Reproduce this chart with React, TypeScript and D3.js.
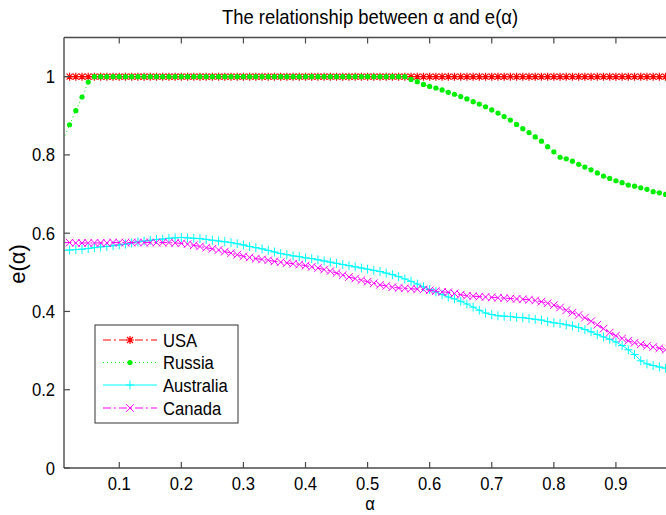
import React from 'react';
import * as d3 from 'd3';

const W = 666;
const H = 515;

// sampling grid of alpha
const alpha = d3.range(1, 100).map((i) => i / 100);

const usa = [
  1, 1, 1, 1, 1, 1, 1, 1, 1, 1,
  1, 1, 1, 1, 1, 1, 1, 1, 1, 1,
  1, 1, 1, 1, 1, 1, 1, 1, 1, 1,
  1, 1, 1, 1, 1, 1, 1, 1, 1, 1,
  1, 1, 1, 1, 1, 1, 1, 1, 1, 1,
  1, 1, 1, 1, 1, 1, 1, 1, 1, 1,
  1, 1, 1, 1, 1, 1, 1, 1, 1, 1,
  1, 1, 1, 1, 1, 1, 1, 1, 1, 1,
  1, 1, 1, 1, 1, 1, 1, 1, 1, 1,
  1, 1, 1, 1, 1, 1, 1, 1, 1,
];

const russia = [
  0.84, 0.877, 0.913, 0.948, 0.986, 1, 1, 1, 1, 1,
  1, 1, 1, 1, 1, 1, 1, 1, 1, 1,
  1, 1, 1, 1, 1, 1, 1, 1, 1, 1,
  1, 1, 1, 1, 1, 1, 1, 1, 1, 1,
  1, 1, 1, 1, 1, 1, 1, 1, 1, 1,
  1, 1, 1, 1, 1, 1, 0.993, 0.987, 0.98, 0.975,
  0.971, 0.966, 0.96, 0.955, 0.949, 0.943, 0.936, 0.93, 0.923, 0.915,
  0.907, 0.898, 0.889, 0.878, 0.867, 0.857, 0.846, 0.835, 0.821, 0.808,
  0.794, 0.79, 0.784, 0.776, 0.769, 0.762, 0.754, 0.746, 0.74, 0.734,
  0.729, 0.723, 0.72, 0.716, 0.712, 0.706, 0.703, 0.699, 0.696,
];

const australia = [
  0.556, 0.557, 0.558, 0.559, 0.561, 0.563, 0.565, 0.566, 0.568, 0.57,
  0.572, 0.575, 0.578, 0.58, 0.582, 0.584, 0.585, 0.587, 0.588, 0.589,
  0.588, 0.587, 0.586, 0.584, 0.582, 0.58, 0.578, 0.576, 0.573, 0.57,
  0.566, 0.563, 0.56, 0.556, 0.552, 0.548, 0.545, 0.542, 0.54, 0.537,
  0.535, 0.532, 0.529, 0.526, 0.523, 0.52, 0.517, 0.514, 0.511, 0.508,
  0.505, 0.502, 0.498, 0.494, 0.489, 0.483, 0.477, 0.47, 0.463, 0.456,
  0.45, 0.443, 0.437, 0.432, 0.426, 0.419, 0.411, 0.403, 0.396, 0.392,
  0.389, 0.388, 0.387, 0.385, 0.384, 0.382, 0.38, 0.378, 0.374, 0.371,
  0.369, 0.366, 0.363, 0.359, 0.354, 0.348, 0.341, 0.335, 0.329, 0.322,
  0.313, 0.302, 0.29, 0.274, 0.266, 0.262, 0.258, 0.255, 0.253,
];

const canada = [
  0.576, 0.576, 0.575, 0.575, 0.575, 0.575, 0.575, 0.575, 0.576, 0.576,
  0.576, 0.576, 0.576, 0.576, 0.576, 0.576, 0.576, 0.576, 0.575, 0.574,
  0.572, 0.569, 0.566, 0.563, 0.56, 0.557, 0.553, 0.549, 0.545, 0.541,
  0.538, 0.535, 0.533, 0.531, 0.528, 0.526, 0.524, 0.522, 0.52, 0.517,
  0.514, 0.511, 0.507, 0.503, 0.498, 0.493, 0.488, 0.484, 0.48, 0.476,
  0.472, 0.468, 0.465, 0.462, 0.46, 0.459, 0.458, 0.457, 0.456, 0.454,
  0.452, 0.45, 0.449, 0.446, 0.443, 0.44, 0.439, 0.438, 0.437, 0.436,
  0.435, 0.434, 0.433, 0.432, 0.431, 0.43, 0.428, 0.425, 0.421, 0.416,
  0.41, 0.403, 0.397, 0.391, 0.384, 0.375, 0.366, 0.356, 0.346, 0.338,
  0.331, 0.325, 0.32, 0.316, 0.312, 0.309, 0.306, 0.302, 0.3,
];

const xTicks = [0.1, 0.2, 0.3, 0.4, 0.5, 0.6, 0.7, 0.8, 0.9, 1.0];
const xTickLabels = ['0.1', '0.2', '0.3', '0.4', '0.5', '0.6', '0.7', '0.8', '0.9', ''];
const yTicks = [0, 0.2, 0.4, 0.6, 0.8, 1];
const yTickLabels = ['0', '0.2', '0.4', '0.6', '0.8', '1'];

const seriesNames = ['USA', 'Russia', 'Australia', 'Canada'];
const seriesData = [usa, russia, australia, canada];
const seriesColors = ['#ff0000', '#00ee00', '#00ffff', '#ff00ff'];
const seriesDash = ['8,3,2,3', '1,3', 'none', '8,3,2,3'];
const seriesMarker = ['asterisk', 'dot', 'plus', 'x'];

const FONT = '"Liberation Sans", Arial, Helvetica, sans-serif';

function markerPath(type: string, cx: number, cy: number): string {
  if (type === 'asterisk') {
    const a = 4, b = 3;
    return `M${cx - a},${cy}H${cx + a}M${cx},${cy - a}V${cy + a}M${cx - b},${cy - b}L${cx + b},${cy + b}M${cx - b},${cy + b}L${cx + b},${cy - b}`;
  }
  if (type === 'plus') {
    return `M${cx - 4},${cy}H${cx + 4}M${cx},${cy - 4.5}V${cy + 4.5}`;
  }
  if (type === 'x') {
    const b = 3.8;
    return `M${cx - b},${cy - b}L${cx + b},${cy + b}M${cx - b},${cy + b}L${cx + b},${cy - b}`;
  }
  return '';
}

function Marker({ type, cx, cy, color }: { type: string; cx: number; cy: number; color: string }) {
  if (type === 'dot') {
    return <circle cx={cx} cy={cy} r={2.6} fill={color} />;
  }
  return (
    <path
      d={markerPath(type, cx, cy)}
      stroke={color}
      strokeWidth={type === 'asterisk' ? 1.2 : 1}
      fill="none"
    />
  );
}

function Txt({ x, y, anchor, size, children }: { x: number; y: number; anchor: string; size: number; children: React.ReactNode }) {
  return (
    <text
      transform={`translate(${x},${y}) scale(0.9,1)`}
      textAnchor={anchor}
      fontSize={size}
      fontFamily={FONT}
      fill="#000"
    >
      {children}
    </text>
  );
}

export default function App() {
  const x = d3.scaleLinear().domain([0.011, 1]).range([64, 678]);
  const y = d3.scaleLinear().domain([0, 1.1]).range([468, 37.5]);
  const [x0, x1] = x.range();
  const [yb, yt] = y.range();
  const [dx0] = x.domain();

  const line = d3
    .line<number>()
    .x((_, i) => x(alpha[i]))
    .y((d) => y(d));

  const axisColor = '#4a4a4a';
  const tickLen = 6;

  const legend = { x: 95, y: 325, w: 143, h: 98 };
  const legendRows = [340, 362.5, 385, 408];

  return (
    <svg
      width={W}
      height={H}
      style={{ position: 'absolute', left: 0, top: 0, background: '#fff' }}
    >
      <defs>
        <clipPath id="plotClip">
          <rect x={x0} y={yt} width={x1 - x0} height={yb - yt} />
        </clipPath>
      </defs>
      <rect x={0} y={0} width={W} height={H} fill="#fff" />
      {/* series */}
      {seriesData.map((data, si) => (
        <g key={seriesNames[si]}>
          <path
            d={line(data) || ''}
            fill="none"
            stroke={seriesColors[si]}
            strokeWidth={1}
            strokeDasharray={seriesDash[si]}
            clipPath="url(#plotClip)"
          />
          {data.map((v, i) =>
            alpha[i] >= dx0 ? (
              <Marker key={i} type={seriesMarker[si]} cx={x(alpha[i])} cy={y(v)} color={seriesColors[si]} />
            ) : null
          )}
        </g>
      ))}

      {/* axes frame */}
      <line x1={x0} y1={yb} x2={x1} y2={yb} stroke={axisColor} strokeWidth={1.4} />
      <line x1={x0} y1={yt} x2={x1} y2={yt} stroke={axisColor} strokeWidth={1.4} />
      <line x1={x0} y1={yb} x2={x0} y2={yt} stroke={axisColor} strokeWidth={1.4} />
      <line x1={x1} y1={yb} x2={x1} y2={yt} stroke={axisColor} strokeWidth={1.4} />

      {/* x ticks */}
      {xTicks.map((t, i) => (
        <g key={`xt${i}`}>
          <line x1={x(t)} y1={yb} x2={x(t)} y2={yb - tickLen} stroke={axisColor} strokeWidth={1.2} />
          <line x1={x(t)} y1={yt} x2={x(t)} y2={yt + tickLen} stroke={axisColor} strokeWidth={1.2} />
          {xTickLabels[i] ? (
            <Txt x={x(t)} y={yb + 21.5} anchor="middle" size={18.5}>
              {xTickLabels[i]}
            </Txt>
          ) : null}
        </g>
      ))}

      {/* y ticks */}
      {yTicks.map((t, i) => (
        <g key={`yt${i}`}>
          <line x1={x0} y1={y(t)} x2={x0 + tickLen} y2={y(t)} stroke={axisColor} strokeWidth={1.2} />
          <Txt x={55} y={y(t) + 6.5} anchor="end" size={18.5}>
            {yTickLabels[i]}
          </Txt>
        </g>
      ))}

      {/* title and labels */}
      <Txt x={370} y={24} anchor="middle" size={20.5}>
        The relationship between α and e(α)
      </Txt>
      <Txt x={370} y={510} anchor="middle" size={18.5}>
        α
      </Txt>
      <text
        transform={`translate(25,264) rotate(-90)`}
        textAnchor="middle"
        fontSize={22}
        fontFamily={FONT}
        fill="#000"
      >
        e(α)
      </text>

      {/* legend */}
      <rect x={legend.x} y={legend.y} width={legend.w} height={legend.h} fill="#fff" stroke="#333" strokeWidth={1} />
      {seriesNames.map((name, si) => {
        const ry = legendRows[si];
        return (
          <g key={`lg${si}`}>
            <line
              x1={103}
              y1={ry}
              x2={157}
              y2={ry}
              stroke={seriesColors[si]}
              strokeWidth={1}
              strokeDasharray={seriesDash[si]}
            />
            <Marker type={seriesMarker[si]} cx={130} cy={ry} color={seriesColors[si]} />
            <Txt x={163} y={ry + 6.5} anchor="start" size={18.5}>
              {name}
            </Txt>
          </g>
        );
      })}
    </svg>
  );
}
